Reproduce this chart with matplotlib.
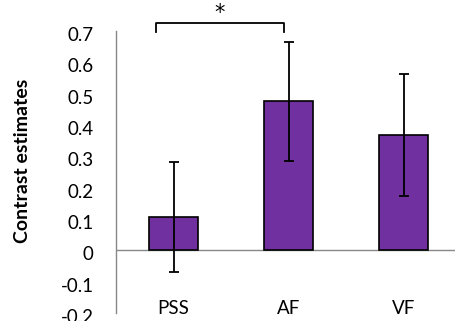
import numpy as np
import matplotlib.transforms as mtransforms
from matplotlib import pyplot as plt

categories = ["PSS", "AF", "VF"]
means = [0.107, 0.475, 0.368]
errors = [0.175, 0.19, 0.195]
yticks = [-0.2, -0.1, 0, 0.1, 0.2, 0.3, 0.4, 0.5, 0.6, 0.7]

plt.rcParams['font.family'] = ['Lato', 'DejaVu Sans']

fig = plt.figure(figsize=(4.55, 3.21), dpi=100)
ax = fig.add_axes([116 / 455, 8 / 321, 345 / 455, 282 / 321])

x = np.arange(len(categories))
ax.bar(x, means, width=0.42, color="#7030A0", edgecolor="black", linewidth=1.2, zorder=2)
ax.errorbar(x, means, yerr=errors, fmt="none", ecolor="black", elinewidth=1.3,
            capsize=3.5, capthick=1.3, zorder=3)

ax.set_xlim(-0.5, 2.5)
ax.set_ylim(-0.2, 0.7)
ax.set_yticks(yticks)
ax.set_yticklabels(["-0.2", "-0.1", "0", "0.1", "0.2", "0.3", "0.4", "0.5", "0.6", "0.7"])
ax.set_xticks(x)
ax.set_xticklabels(categories)

for s in ["top", "right", "bottom"]:
    ax.spines[s].set_visible(False)
ax.spines["left"].set_color("#888888")
ax.spines["left"].set_linewidth(1.0)
ax.axhline(0, color="#888888", linewidth=1.0, zorder=1)

ax.tick_params(axis="y", length=0, pad=16, labelsize=13.5)
ax.tick_params(axis="x", length=0, pad=-9, labelsize=13.5)

# excel places the value labels a little below the gridline positions
shift = mtransforms.ScaledTranslation(0, -3 / 100, fig.dpi_scale_trans)
for lab in ax.get_yticklabels():
    lab.set_transform(lab.get_transform() + shift)

ax.set_ylabel("Contrast estimates", fontsize=14, fontweight="bold")
ax.yaxis.set_label_coords(-0.245, 0.54)

# significance bracket
bx = [-0.15, -0.15, 0.96, 0.96]
by = [0.697, 0.724, 0.724, 0.697]
ax.plot(bx, by, color="black", linewidth=1.3, clip_on=False)
ax.text(0.405, 0.726, "*", ha="center", va="bottom", fontsize=15,
        family="DejaVu Sans", clip_on=False)

fig.savefig("out.png", dpi=100)
